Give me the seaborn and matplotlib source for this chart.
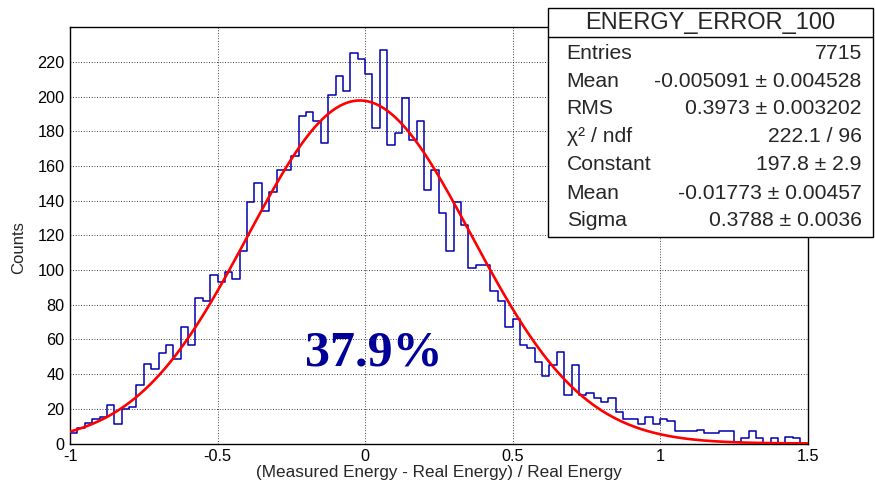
import numpy as np
import pandas as pd
import matplotlib
matplotlib.use("Agg")
import matplotlib.pyplot as plt
from matplotlib.ticker import MultipleLocator, FixedLocator
from matplotlib.patches import Rectangle
from matplotlib.lines import Line2D
import seaborn as sns

# ---------------- data ----------------
x_min, x_max, n_bins = -1.0, 1.5, 100
counts = [6, 9, 12, 14, 15, 22, 11, 20, 21, 34,
          46, 43, 52, 57, 49, 67, 57, 84, 82, 97,
          93, 99, 95, 111, 139, 150, 134, 145, 158, 158,
          166, 189, 191, 186, 173, 201, 212, 203, 225, 222,
          213, 182, 227, 172, 179, 199, 175, 186, 146, 158,
          133, 111, 139, 126, 101, 103, 103, 88, 82, 67,
          72, 57, 55, 47, 39, 45, 53, 28, 45, 28,
          29, 26, 24, 26, 18, 14, 14, 11, 15, 11,
          14, 13, 7, 7, 7, 8, 6, 6, 7, 7,
          1, 3, 7, 3, 0, 3, 0, 4, 3, 0]

# Gaussian fit parameters (from the stat box)
fit_constant = 197.8
fit_mean = -0.01773
fit_sigma = 0.3788

stat_title = "ENERGY_ERROR_100"
stat_names = ["Entries", "Mean", "RMS", "χ² / ndf", "Constant", "Mean", "Sigma"]
stat_values = ["7715", "-0.005091 ± 0.004528", "0.3973 ± 0.003202", "222.1 / 96",
               "197.8 ± 2.9", "-0.01773 ± 0.00457", "0.3788 ± 0.0036"]

x_ticks = [-1, -0.5, 0, 0.5, 1, 1.5]
x_ticklabels = ["-1", "-0.5", "0", "0.5", "1", "1.5"]
y_ticks = list(range(0, 221, 20))
x_title = "(Measured Energy - Real Energy) / Real Energy"
y_title = "Counts"
annotation = "37.9%"

# ---------------- figure ----------------
sns.set_style("white")
plt.rcParams["font.family"] = ["Liberation Sans", "DejaVu Sans"]

W, H = 875, 482
fig = plt.figure(figsize=(W / 100, H / 100), dpi=100)
L, R, T, B = 70, 807.5, 27.3, 443.5
ax = fig.add_axes([L / W, 1 - B / H, (R - L) / W, (B - T) / H])

width = (x_max - x_min) / n_bins
centers = x_min + width * (np.arange(n_bins) + 0.5)
df = pd.DataFrame({"x": centers, "w": counts})

ax.grid(True, which="major", color="black", linestyle=(0, (1, 2.2)), linewidth=0.6)
ax.set_axisbelow(True)

sns.histplot(data=df, x="x", weights="w", bins=n_bins, binrange=(x_min, x_max),
             element="step", fill=False, color="#0000b0", linewidth=1.1, ax=ax, zorder=3)

xs = np.linspace(x_min, x_max, 600)
fit_df = pd.DataFrame({"x": xs,
                       "y": fit_constant * np.exp(-0.5 * ((xs - fit_mean) / fit_sigma) ** 2)})
sns.lineplot(data=fit_df, x="x", y="y", color="#ff0000", linewidth=1.9, ax=ax, zorder=4)

ax.set_xlim(x_min, x_max)
ax.set_ylim(0, 240)
ax.xaxis.set_major_locator(FixedLocator(x_ticks))
ax.set_xticklabels(x_ticklabels)
ax.xaxis.set_minor_locator(MultipleLocator(0.1))
ax.yaxis.set_major_locator(FixedLocator(y_ticks))
ax.yaxis.set_minor_locator(MultipleLocator(5))

ax.tick_params(axis="both", which="both", direction="in", top=False, right=False,
               colors="black", labelsize=11.7, width=0.9)
ax.tick_params(axis="x", which="major", length=9, pad=4)
ax.tick_params(axis="x", which="minor", length=4.5)
ax.tick_params(axis="y", which="major", length=16, pad=4)
ax.tick_params(axis="y", which="minor", length=8)

for s in ax.spines.values():
    s.set_color("black")
    s.set_linewidth(1.0)
    s.set_visible(True)

ax.set_xlabel(x_title, fontsize=12.3, labelpad=1)
ax.set_ylabel(y_title, fontsize=12.0)
ax.yaxis.set_label_coords((26 - L) / (R - L), 0.47)

ax.text(0.03, 45, annotation, fontsize=36, fontweight="bold", color="#000099",
        family=["Liberation Serif", "DejaVu Serif"], ha="center", va="baseline", zorder=5)

# ---------------- stat box ----------------
def fx(px):
    return px / W

def fy(py):
    return 1 - py / H

bx0, bx1, by0, by1 = 548, 873, 8.3, 237
fig.add_artist(Rectangle((fx(bx0), fy(by1)), fx(bx1) - fx(bx0), fy(by0) - fy(by1),
                         transform=fig.transFigure, facecolor="white",
                         edgecolor="black", linewidth=1.0, zorder=10))
fig.add_artist(Line2D([fx(bx0), fx(bx1)], [fy(36.7), fy(36.7)], transform=fig.transFigure,
                      color="black", linewidth=1.0, zorder=11))
fig.text(fx((bx0 + bx1) / 2), fy(22.7), stat_title, fontsize=17, ha="center",
         va="center", zorder=12)
row_y = [53.3, 81.0, 108.5, 136.7, 165.0, 193.3, 221.0]
for yy, name, val in zip(row_y, stat_names, stat_values):
    fig.text(fx(566.7), fy(yy), name, fontsize=15.2, ha="left", va="center", zorder=12)
    fig.text(fx(861.7), fy(yy), val, fontsize=15.2, ha="right", va="center", zorder=12)

fig.savefig("out.png", dpi=100)
